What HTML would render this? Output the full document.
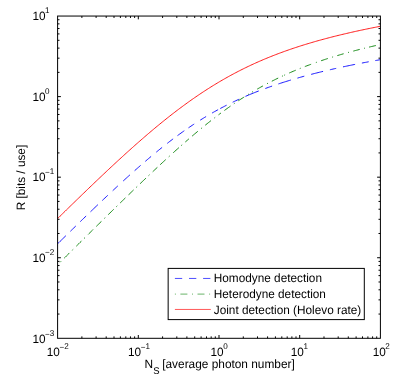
<!DOCTYPE html>
<html><head><meta charset="utf-8"><title>chart</title>
<style>
html,body{margin:0;padding:0;background:#fff;}
svg{display:block;will-change:transform;}
text{font-family:"Liberation Sans",sans-serif;fill:#000;text-rendering:geometricPrecision;}
</style></head><body>
<svg width="416" height="382" viewBox="0 0 416 382">
<rect x="0" y="0" width="416" height="382" fill="#fff"/>
<path d="M81.89,338.3 v-1.9 M81.89,16.05 v1.9 M96.10,338.3 v-1.9 M96.10,16.05 v1.9 M106.19,338.3 v-1.9 M106.19,16.05 v1.9 M114.01,338.3 v-1.9 M114.01,16.05 v1.9 M120.40,338.3 v-1.9 M120.40,16.05 v1.9 M125.80,338.3 v-1.9 M125.80,16.05 v1.9 M130.48,338.3 v-1.9 M130.48,16.05 v1.9 M134.61,338.3 v-1.9 M134.61,16.05 v1.9 M138.30,338.3 v-3.3 M138.30,16.05 v3.3 M162.59,338.3 v-1.9 M162.59,16.05 v1.9 M176.80,338.3 v-1.9 M176.80,16.05 v1.9 M186.89,338.3 v-1.9 M186.89,16.05 v1.9 M194.71,338.3 v-1.9 M194.71,16.05 v1.9 M201.10,338.3 v-1.9 M201.10,16.05 v1.9 M206.50,338.3 v-1.9 M206.50,16.05 v1.9 M211.18,338.3 v-1.9 M211.18,16.05 v1.9 M215.31,338.3 v-1.9 M215.31,16.05 v1.9 M219.00,338.3 v-3.3 M219.00,16.05 v3.3 M243.29,338.3 v-1.9 M243.29,16.05 v1.9 M257.50,338.3 v-1.9 M257.50,16.05 v1.9 M267.59,338.3 v-1.9 M267.59,16.05 v1.9 M275.41,338.3 v-1.9 M275.41,16.05 v1.9 M281.80,338.3 v-1.9 M281.80,16.05 v1.9 M287.20,338.3 v-1.9 M287.20,16.05 v1.9 M291.88,338.3 v-1.9 M291.88,16.05 v1.9 M296.01,338.3 v-1.9 M296.01,16.05 v1.9 M299.70,338.3 v-3.3 M299.70,16.05 v3.3 M323.99,338.3 v-1.9 M323.99,16.05 v1.9 M338.20,338.3 v-1.9 M338.20,16.05 v1.9 M348.29,338.3 v-1.9 M348.29,16.05 v1.9 M356.11,338.3 v-1.9 M356.11,16.05 v1.9 M362.50,338.3 v-1.9 M362.50,16.05 v1.9 M367.90,338.3 v-1.9 M367.90,16.05 v1.9 M372.58,338.3 v-1.9 M372.58,16.05 v1.9 M376.71,338.3 v-1.9 M376.71,16.05 v1.9 M57.6,314.05 h1.9 M380.4,314.05 h-1.9 M57.6,299.86 h1.9 M380.4,299.86 h-1.9 M57.6,289.80 h1.9 M380.4,289.80 h-1.9 M57.6,281.99 h1.9 M380.4,281.99 h-1.9 M57.6,275.61 h1.9 M380.4,275.61 h-1.9 M57.6,270.22 h1.9 M380.4,270.22 h-1.9 M57.6,265.54 h1.9 M380.4,265.54 h-1.9 M57.6,261.42 h1.9 M380.4,261.42 h-1.9 M57.6,257.74 h3.3 M380.4,257.74 h-3.3 M57.6,233.49 h1.9 M380.4,233.49 h-1.9 M57.6,219.30 h1.9 M380.4,219.30 h-1.9 M57.6,209.23 h1.9 M380.4,209.23 h-1.9 M57.6,201.43 h1.9 M380.4,201.43 h-1.9 M57.6,195.05 h1.9 M380.4,195.05 h-1.9 M57.6,189.65 h1.9 M380.4,189.65 h-1.9 M57.6,184.98 h1.9 M380.4,184.98 h-1.9 M57.6,180.86 h1.9 M380.4,180.86 h-1.9 M57.6,177.18 h3.3 M380.4,177.18 h-3.3 M57.6,152.92 h1.9 M380.4,152.92 h-1.9 M57.6,138.74 h1.9 M380.4,138.74 h-1.9 M57.6,128.67 h1.9 M380.4,128.67 h-1.9 M57.6,120.86 h1.9 M380.4,120.86 h-1.9 M57.6,114.49 h1.9 M380.4,114.49 h-1.9 M57.6,109.09 h1.9 M380.4,109.09 h-1.9 M57.6,104.42 h1.9 M380.4,104.42 h-1.9 M57.6,100.30 h1.9 M380.4,100.30 h-1.9 M57.6,96.61 h3.3 M380.4,96.61 h-3.3 M57.6,72.36 h1.9 M380.4,72.36 h-1.9 M57.6,58.17 h1.9 M380.4,58.17 h-1.9 M57.6,48.11 h1.9 M380.4,48.11 h-1.9 M57.6,40.30 h1.9 M380.4,40.30 h-1.9 M57.6,33.92 h1.9 M380.4,33.92 h-1.9 M57.6,28.53 h1.9 M380.4,28.53 h-1.9 M57.6,23.86 h1.9 M380.4,23.86 h-1.9 M57.6,19.74 h1.9 M380.4,19.74 h-1.9" stroke="#000" stroke-width="1" fill="none"/>
<clipPath id="c"><rect x="57.6" y="16.05" width="322.79999999999995" height="322.25"/></clipPath>
<g clip-path="url(#c)" fill="none" stroke-width="0.9">
<path d="M57.60,243.83 L58.85,242.60 L60.09,241.37 L61.34,240.15 L62.59,238.93 L63.83,237.70 L65.08,236.48 L66.32,235.26 L67.57,234.04 L68.82,232.82 L70.06,231.60 L71.31,230.38 L72.56,229.17 L73.80,227.95 L75.05,226.73 L76.29,225.52 L77.54,224.31 L78.79,223.09 L80.03,221.88 L81.28,220.67 L82.53,219.47 L83.77,218.26 L85.02,217.05 L86.27,215.85 L87.51,214.64 L88.76,213.44 L90.00,212.24 L91.25,211.04 L92.50,209.84 L93.74,208.65 L94.99,207.45 L96.24,206.26 L97.48,205.07 L98.73,203.88 L99.98,202.69 L101.22,201.51 L102.47,200.32 L103.71,199.14 L104.96,197.96 L106.21,196.79 L107.45,195.61 L108.70,194.44 L109.95,193.27 L111.19,192.10 L112.44,190.93 L113.68,189.77 L114.93,188.61 L116.18,187.45 L117.42,186.30 L118.67,185.14 L119.92,183.99 L121.16,182.85 L122.41,181.70 L123.66,180.56 L124.90,179.43 L126.15,178.29 L127.39,177.16 L128.64,176.04 L129.89,174.91 L131.13,173.80 L132.38,172.68 L133.63,171.57 L134.87,170.46 L136.12,169.36 L137.37,168.26 L138.61,167.16 L139.86,166.07 L141.10,164.98 L142.35,163.90 L143.60,162.82 L144.84,161.75 L146.09,160.68 L147.34,159.62 L148.58,158.56 L149.83,157.51 L151.07,156.46 L152.32,155.42 L153.57,154.38 L154.81,153.35 L156.06,152.32 L157.31,151.30 L158.55,150.29 L159.80,149.28 L161.05,148.27 L162.29,147.28 L163.54,146.29 L164.78,145.30 L166.03,144.32 L167.28,143.35 L168.52,142.38 L169.77,141.42 L171.02,140.47 L172.26,139.52 L173.51,138.58 L174.76,137.65 L176.00,136.73 L177.25,135.81 L178.49,134.89 L179.74,133.99 L180.99,133.09 L182.23,132.20 L183.48,131.32 L184.73,130.44 L185.97,129.57 L187.22,128.71 L188.46,127.85 L189.71,127.00 L190.96,126.16 L192.20,125.33 L193.45,124.50 L194.70,123.69 L195.94,122.87 L197.19,122.07 L198.44,121.27 L199.68,120.49 L200.93,119.70 L202.17,118.93 L203.42,118.16 L204.67,117.40 L205.91,116.65 L207.16,115.91 L208.41,115.17 L209.65,114.44 L210.90,113.72 L212.15,113.00 L213.39,112.29 L214.64,111.59 L215.88,110.90 L217.13,110.21 L218.38,109.53 L219.62,108.86 L220.87,108.19 L222.12,107.53 L223.36,106.88 L224.61,106.23 L225.85,105.59 L227.10,104.96 L228.35,104.34 L229.59,103.72 L230.84,103.10 L232.09,102.50 L233.33,101.90 L234.58,101.30 L235.83,100.72 L237.07,100.14 L238.32,99.56 L239.56,98.99 L240.81,98.43 L242.06,97.87 L243.30,97.32 L244.55,96.78 L245.80,96.24 L247.04,95.70 L248.29,95.18 L249.54,94.65 L250.78,94.14 L252.03,93.63 L253.27,93.12 L254.52,92.62 L255.77,92.12 L257.01,91.63 L258.26,91.15 L259.51,90.66 L260.75,90.19 L262.00,89.72 L263.24,89.25 L264.49,88.79 L265.74,88.33 L266.98,87.88 L268.23,87.43 L269.48,86.99 L270.72,86.55 L271.97,86.12 L273.22,85.69 L274.46,85.26 L275.71,84.84 L276.95,84.42 L278.20,84.01 L279.45,83.60 L280.69,83.19 L281.94,82.79 L283.19,82.39 L284.43,82.00 L285.68,81.61 L286.93,81.22 L288.17,80.84 L289.42,80.46 L290.66,80.08 L291.91,79.71 L293.16,79.34 L294.40,78.97 L295.65,78.61 L296.90,78.25 L298.14,77.90 L299.39,77.54 L300.63,77.19 L301.88,76.85 L303.13,76.50 L304.37,76.16 L305.62,75.82 L306.87,75.49 L308.11,75.16 L309.36,74.83 L310.61,74.50 L311.85,74.18 L313.10,73.86 L314.34,73.54 L315.59,73.22 L316.84,72.91 L318.08,72.60 L319.33,72.29 L320.58,71.99 L321.82,71.68 L323.07,71.38 L324.32,71.08 L325.56,70.79 L326.81,70.49 L328.05,70.20 L329.30,69.91 L330.55,69.63 L331.79,69.34 L333.04,69.06 L334.29,68.78 L335.53,68.50 L336.78,68.22 L338.02,67.95 L339.27,67.68 L340.52,67.41 L341.76,67.14 L343.01,66.87 L344.26,66.61 L345.50,66.35 L346.75,66.09 L348.00,65.83 L349.24,65.57 L350.49,65.32 L351.73,65.06 L352.98,64.81 L354.23,64.56 L355.47,64.31 L356.72,64.07 L357.97,63.82 L359.21,63.58 L360.46,63.34 L361.71,63.10 L362.95,62.86 L364.20,62.62 L365.44,62.39 L366.69,62.16 L367.94,61.92 L369.18,61.69 L370.43,61.46 L371.68,61.24 L372.92,61.01 L374.17,60.78 L375.41,60.56 L376.66,60.34 L377.91,60.12 L379.15,59.90 L380.40,59.68" stroke="#0000ff" stroke-dasharray="0 0.00 11.63 6.30 7.55 6.28 8.08 6.11 10.39 5.80 7.84 6.58 7.10 7.07 9.18 6.30 7.99 6.21 7.61 6.76 7.46 6.62 7.30 5.48 8.37 5.11 6.86 7.13 6.92 6.95 6.87 2.39 7.22 6.80 7.18 6.78 14.48 6.84 7.32 6.65 13.10 6.77 7.16 7.04 12.37 6.99 6.46 6.96 12.35 6.93 6.92 6.71 5.18 1000.00"/>
<path d="M57.60,264.76 L58.85,263.52 L60.09,262.28 L61.34,261.04 L62.59,259.80 L63.83,258.56 L65.08,257.33 L66.32,256.09 L67.57,254.85 L68.82,253.61 L70.06,252.38 L71.31,251.14 L72.56,249.90 L73.80,248.67 L75.05,247.43 L76.29,246.19 L77.54,244.96 L78.79,243.72 L80.03,242.49 L81.28,241.25 L82.53,240.02 L83.77,238.79 L85.02,237.55 L86.27,236.32 L87.51,235.09 L88.76,233.85 L90.00,232.62 L91.25,231.39 L92.50,230.16 L93.74,228.93 L94.99,227.70 L96.24,226.47 L97.48,225.24 L98.73,224.01 L99.98,222.79 L101.22,221.56 L102.47,220.33 L103.71,219.11 L104.96,217.88 L106.21,216.66 L107.45,215.43 L108.70,214.21 L109.95,212.99 L111.19,211.76 L112.44,210.54 L113.68,209.32 L114.93,208.10 L116.18,206.88 L117.42,205.67 L118.67,204.45 L119.92,203.23 L121.16,202.02 L122.41,200.81 L123.66,199.59 L124.90,198.38 L126.15,197.17 L127.39,195.96 L128.64,194.75 L129.89,193.55 L131.13,192.34 L132.38,191.14 L133.63,189.93 L134.87,188.73 L136.12,187.53 L137.37,186.33 L138.61,185.14 L139.86,183.94 L141.10,182.75 L142.35,181.56 L143.60,180.37 L144.84,179.18 L146.09,177.99 L147.34,176.81 L148.58,175.62 L149.83,174.44 L151.07,173.26 L152.32,172.09 L153.57,170.91 L154.81,169.74 L156.06,168.57 L157.31,167.41 L158.55,166.24 L159.80,165.08 L161.05,163.92 L162.29,162.76 L163.54,161.61 L164.78,160.46 L166.03,159.31 L167.28,158.17 L168.52,157.02 L169.77,155.89 L171.02,154.75 L172.26,153.62 L173.51,152.49 L174.76,151.37 L176.00,150.24 L177.25,149.13 L178.49,148.01 L179.74,146.90 L180.99,145.80 L182.23,144.69 L183.48,143.60 L184.73,142.50 L185.97,141.41 L187.22,140.33 L188.46,139.25 L189.71,138.17 L190.96,137.10 L192.20,136.04 L193.45,134.98 L194.70,133.92 L195.94,132.87 L197.19,131.82 L198.44,130.78 L199.68,129.75 L200.93,128.72 L202.17,127.70 L203.42,126.68 L204.67,125.67 L205.91,124.66 L207.16,123.66 L208.41,122.66 L209.65,121.68 L210.90,120.69 L212.15,119.72 L213.39,118.75 L214.64,117.79 L215.88,116.83 L217.13,115.88 L218.38,114.94 L219.62,114.00 L220.87,113.07 L222.12,112.15 L223.36,111.23 L224.61,110.32 L225.85,109.42 L227.10,108.53 L228.35,107.64 L229.59,106.76 L230.84,105.88 L232.09,105.02 L233.33,104.16 L234.58,103.31 L235.83,102.46 L237.07,101.62 L238.32,100.79 L239.56,99.97 L240.81,99.16 L242.06,98.35 L243.30,97.55 L244.55,96.76 L245.80,95.97 L247.04,95.19 L248.29,94.42 L249.54,93.66 L250.78,92.90 L252.03,92.15 L253.27,91.41 L254.52,90.68 L255.77,89.95 L257.01,89.23 L258.26,88.52 L259.51,87.81 L260.75,87.12 L262.00,86.43 L263.24,85.74 L264.49,85.06 L265.74,84.39 L266.98,83.73 L268.23,83.08 L269.48,82.43 L270.72,81.78 L271.97,81.15 L273.22,80.52 L274.46,79.90 L275.71,79.28 L276.95,78.67 L278.20,78.07 L279.45,77.47 L280.69,76.88 L281.94,76.30 L283.19,75.72 L284.43,75.15 L285.68,74.58 L286.93,74.02 L288.17,73.47 L289.42,72.92 L290.66,72.38 L291.91,71.84 L293.16,71.31 L294.40,70.78 L295.65,70.26 L296.90,69.75 L298.14,69.24 L299.39,68.73 L300.63,68.24 L301.88,67.74 L303.13,67.25 L304.37,66.77 L305.62,66.29 L306.87,65.82 L308.11,65.35 L309.36,64.88 L310.61,64.43 L311.85,63.97 L313.10,63.52 L314.34,63.08 L315.59,62.63 L316.84,62.20 L318.08,61.76 L319.33,61.34 L320.58,60.91 L321.82,60.49 L323.07,60.08 L324.32,59.67 L325.56,59.26 L326.81,58.85 L328.05,58.45 L329.30,58.06 L330.55,57.66 L331.79,57.28 L333.04,56.89 L334.29,56.51 L335.53,56.13 L336.78,55.76 L338.02,55.39 L339.27,55.02 L340.52,54.65 L341.76,54.29 L343.01,53.93 L344.26,53.58 L345.50,53.23 L346.75,52.88 L348.00,52.53 L349.24,52.19 L350.49,51.85 L351.73,51.52 L352.98,51.18 L354.23,50.85 L355.47,50.52 L356.72,50.20 L357.97,49.88 L359.21,49.56 L360.46,49.24 L361.71,48.93 L362.95,48.61 L364.20,48.30 L365.44,48.00 L366.69,47.69 L367.94,47.39 L369.18,47.09 L370.43,46.79 L371.68,46.50 L372.92,46.21 L374.17,45.92 L375.41,45.63 L376.66,45.34 L377.91,45.06 L379.15,44.78 L380.40,44.50" stroke="#007f00" stroke-dasharray="0 3.60 1.27 4.58 7.33 3.87 1.27 4.44 7.46 3.38 1.27 4.78 6.68 4.57 7.30 4.00 1.26 3.99 7.84 3.71 1.26 4.12 7.26 4.18 7.23 3.68 1.25 4.09 8.02 3.65 1.24 4.47 6.45 3.83 7.49 4.14 1.22 4.66 7.93 3.01 1.20 4.19 4.90 4.09 7.59 4.22 1.16 4.06 7.42 4.12 1.14 4.21 3.12 4.10 7.62 4.07 1.09 4.28 7.03 4.42 1.06 3.62 1.05 5.04 6.53 4.66 1.02 4.39 7.14 4.15 0.99 1.43 0.99 4.49 7.18 4.32 0.97 4.46 6.73 5.05 0.95 4.49 7.16 4.56 0.94 4.44 6.56 4.62 0.93 4.51 6.72 4.38 0.93 4.17 7.19 1000.00"/>
<path d="M57.60,218.58 L58.85,217.36 L60.09,216.14 L61.34,214.91 L62.59,213.69 L63.83,212.47 L65.08,211.25 L66.32,210.03 L67.57,208.82 L68.82,207.60 L70.06,206.38 L71.31,205.17 L72.56,203.95 L73.80,202.74 L75.05,201.53 L76.29,200.32 L77.54,199.11 L78.79,197.90 L80.03,196.69 L81.28,195.48 L82.53,194.28 L83.77,193.07 L85.02,191.87 L86.27,190.67 L87.51,189.47 L88.76,188.27 L90.00,187.07 L91.25,185.88 L92.50,184.68 L93.74,183.49 L94.99,182.30 L96.24,181.11 L97.48,179.92 L98.73,178.74 L99.98,177.55 L101.22,176.37 L102.47,175.19 L103.71,174.02 L104.96,172.84 L106.21,171.67 L107.45,170.49 L108.70,169.33 L109.95,168.16 L111.19,166.99 L112.44,165.83 L113.68,164.67 L114.93,163.52 L116.18,162.36 L117.42,161.21 L118.67,160.06 L119.92,158.91 L121.16,157.77 L122.41,156.63 L123.66,155.49 L124.90,154.36 L126.15,153.23 L127.39,152.10 L128.64,150.97 L129.89,149.85 L131.13,148.73 L132.38,147.62 L133.63,146.50 L134.87,145.40 L136.12,144.29 L137.37,143.19 L138.61,142.09 L139.86,141.00 L141.10,139.91 L142.35,138.83 L143.60,137.75 L144.84,136.67 L146.09,135.60 L147.34,134.53 L148.58,133.46 L149.83,132.40 L151.07,131.35 L152.32,130.30 L153.57,129.25 L154.81,128.21 L156.06,127.17 L157.31,126.14 L158.55,125.11 L159.80,124.09 L161.05,123.07 L162.29,122.06 L163.54,121.05 L164.78,120.05 L166.03,119.05 L167.28,118.06 L168.52,117.07 L169.77,116.09 L171.02,115.11 L172.26,114.14 L173.51,113.18 L174.76,112.22 L176.00,111.26 L177.25,110.31 L178.49,109.37 L179.74,108.43 L180.99,107.50 L182.23,106.58 L183.48,105.66 L184.73,104.74 L185.97,103.84 L187.22,102.93 L188.46,102.04 L189.71,101.15 L190.96,100.27 L192.20,99.39 L193.45,98.52 L194.70,97.65 L195.94,96.79 L197.19,95.94 L198.44,95.09 L199.68,94.25 L200.93,93.42 L202.17,92.59 L203.42,91.77 L204.67,90.96 L205.91,90.15 L207.16,89.34 L208.41,88.55 L209.65,87.76 L210.90,86.98 L212.15,86.20 L213.39,85.43 L214.64,84.67 L215.88,83.91 L217.13,83.16 L218.38,82.41 L219.62,81.67 L220.87,80.94 L222.12,80.22 L223.36,79.50 L224.61,78.78 L225.85,78.08 L227.10,77.38 L228.35,76.68 L229.59,75.99 L230.84,75.31 L232.09,74.64 L233.33,73.97 L234.58,73.31 L235.83,72.65 L237.07,72.00 L238.32,71.35 L239.56,70.72 L240.81,70.08 L242.06,69.46 L243.30,68.84 L244.55,68.22 L245.80,67.61 L247.04,67.01 L248.29,66.41 L249.54,65.82 L250.78,65.23 L252.03,64.65 L253.27,64.08 L254.52,63.51 L255.77,62.95 L257.01,62.39 L258.26,61.84 L259.51,61.29 L260.75,60.75 L262.00,60.21 L263.24,59.68 L264.49,59.15 L265.74,58.63 L266.98,58.12 L268.23,57.61 L269.48,57.10 L270.72,56.60 L271.97,56.10 L273.22,55.61 L274.46,55.13 L275.71,54.65 L276.95,54.17 L278.20,53.70 L279.45,53.23 L280.69,52.76 L281.94,52.31 L283.19,51.85 L284.43,51.40 L285.68,50.96 L286.93,50.51 L288.17,50.08 L289.42,49.64 L290.66,49.21 L291.91,48.79 L293.16,48.37 L294.40,47.95 L295.65,47.54 L296.90,47.13 L298.14,46.72 L299.39,46.32 L300.63,45.92 L301.88,45.53 L303.13,45.14 L304.37,44.75 L305.62,44.37 L306.87,43.99 L308.11,43.61 L309.36,43.24 L310.61,42.87 L311.85,42.50 L313.10,42.14 L314.34,41.78 L315.59,41.42 L316.84,41.06 L318.08,40.71 L319.33,40.37 L320.58,40.02 L321.82,39.68 L323.07,39.34 L324.32,39.00 L325.56,38.67 L326.81,38.34 L328.05,38.01 L329.30,37.69 L330.55,37.36 L331.79,37.04 L333.04,36.73 L334.29,36.41 L335.53,36.10 L336.78,35.79 L338.02,35.48 L339.27,35.18 L340.52,34.87 L341.76,34.57 L343.01,34.28 L344.26,33.98 L345.50,33.69 L346.75,33.40 L348.00,33.11 L349.24,32.82 L350.49,32.54 L351.73,32.26 L352.98,31.98 L354.23,31.70 L355.47,31.42 L356.72,31.15 L357.97,30.88 L359.21,30.61 L360.46,30.34 L361.71,30.07 L362.95,29.81 L364.20,29.55 L365.44,29.29 L366.69,29.03 L367.94,28.77 L369.18,28.52 L370.43,28.26 L371.68,28.01 L372.92,27.76 L374.17,27.51 L375.41,27.27 L376.66,27.02 L377.91,26.78 L379.15,26.54 L380.40,26.30" stroke="#ff0000"/>
</g>
<rect x="57.6" y="16.05" width="322.80" height="322.25" fill="none" stroke="#000" stroke-width="1"/>
<text transform="translate(32.4,342.70) scale(0.975,1)" font-size="12.1">10<tspan font-size="8.3" dy="-6.20" dx="-0.4">−</tspan><tspan font-size="8.3" dy="-0.8">3</tspan></text>
<text transform="translate(32.4,262.20) scale(0.975,1)" font-size="12.1">10<tspan font-size="8.3" dy="-6.90" dx="-0.4">−</tspan><tspan font-size="8.3" dy="-0.8">2</tspan></text>
<text transform="translate(32.4,180.70) scale(0.975,1)" font-size="12.1">10<tspan font-size="8.3" dy="-5.70" dx="-0.4">−</tspan><tspan font-size="8.3" dy="-0.8">1</tspan></text>
<text transform="translate(32.4,100.80) scale(0.975,1)" font-size="12.1">10<tspan font-size="8.3" dy="-7.10" dx="-0.4">0</tspan></text>
<text transform="translate(32.4,19.80) scale(0.975,1)" font-size="12.1">10<tspan font-size="8.3" dy="-7.30" dx="-0.4">1</tspan></text>
<text transform="translate(57.70,356.25) scale(0.975,1)" font-size="12.1" text-anchor="middle">10<tspan font-size="8.3" dy="-6.70" dx="-0.4">−</tspan><tspan font-size="8.3" dy="-0.8">2</tspan></text>
<text transform="translate(139.05,356.25) scale(0.975,1)" font-size="12.1" text-anchor="middle">10<tspan font-size="8.3" dy="-6.70" dx="-0.4">−</tspan><tspan font-size="8.3" dy="-0.8">1</tspan></text>
<text transform="translate(219.10,356.25) scale(0.975,1)" font-size="12.1" text-anchor="middle">10<tspan font-size="8.3" dy="-7.50" dx="-0.4">0</tspan></text>
<text transform="translate(299.40,356.25) scale(0.975,1)" font-size="12.1" text-anchor="middle">10<tspan font-size="8.3" dy="-7.50" dx="-0.4">1</tspan></text>
<text transform="translate(381.25,356.25) scale(0.975,1)" font-size="12.1" text-anchor="middle">10<tspan font-size="8.3" dy="-7.50" dx="-0.4">2</tspan></text>
<text transform="translate(144.6,368.1) scale(0.981,1)" font-size="12.1">N<tspan font-size="9.7" dy="5.9">S</tspan><tspan dy="-5.9" dx="-0.6"> [average photon number]</tspan></text>
<text transform="translate(25.0,177.6) rotate(-90) scale(0.975,1)" font-size="12.1" text-anchor="middle">R [bits / use]</text>
<rect x="168.15" y="268.4" width="196.15" height="51.20" fill="#fff" stroke="#000" stroke-width="1"/>
<path d="M174.9,278.45 H210.8" stroke="#0000ff" stroke-width="0.7" stroke-dasharray="7.3 6.8" fill="none"/>
<path d="M174.9,294.1 H210.8" stroke="#007f00" stroke-width="0.6" stroke-dasharray="1 4.5 7 4.6" fill="none"/>
<path d="M174.9,309.45 H210.8" stroke="#ff0000" stroke-width="0.66" fill="none"/>
<text transform="translate(213.8,282.30) scale(0.975,1)" font-size="12.1">Homodyne detection</text>
<text transform="translate(213.8,297.95) scale(0.975,1)" font-size="12.1">Heterodyne detection</text>
<text transform="translate(213.8,313.90) scale(0.975,1)" font-size="12.1">Joint detection (Holevo rate)</text>
</svg></body></html>
